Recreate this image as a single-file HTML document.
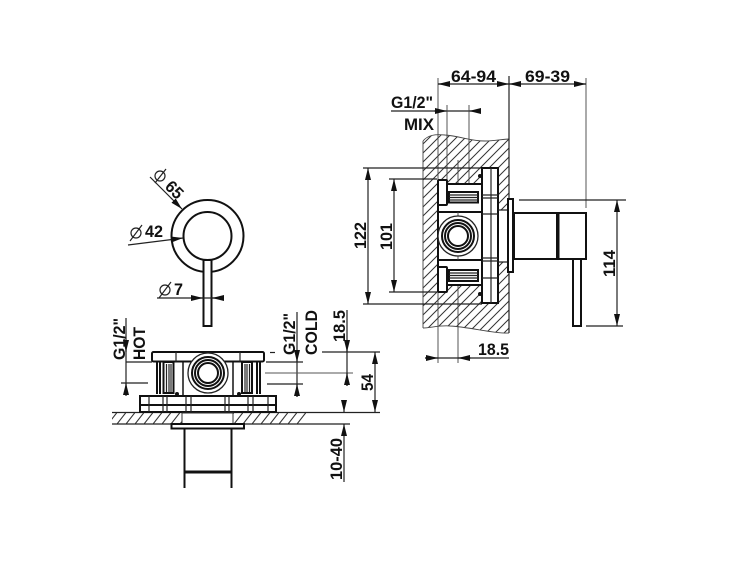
<!DOCTYPE html>
<html><head><meta charset="utf-8"><style>
html,body{margin:0;padding:0;background:#fff}
svg{display:block}
text{font-family:"Liberation Sans",sans-serif;font-size:17px;font-weight:bold;fill:#111}
.t{fill:none;stroke:#111;stroke-width:2}
.m{fill:none;stroke:#222;stroke-width:1.2}
.f{fill:none;stroke:#444;stroke-width:.9}
.w{fill:#fff;stroke:#111;stroke-width:2}
</style></head><body>
<svg width="750" height="563" viewBox="0 0 750 563" xmlns="http://www.w3.org/2000/svg">
<defs>
<pattern id="h" width="9" height="9" patternUnits="userSpaceOnUse"><path d="M-2 2L2 -2M0 9L9 0M7 11L11 7" stroke="#333" stroke-width="1"/></pattern>
<pattern id="h2" width="9" height="11.5" patternUnits="userSpaceOnUse" y="412.5"><path d="M0 11.5L9 0" stroke="#333" stroke-width="1.1"/></pattern>
<marker id="a" markerUnits="userSpaceOnUse" markerWidth="12" markerHeight="6" refX="12" refY="3" orient="auto"><path d="M0 0L12 3L0 6z" fill="#111"/></marker>
</defs>

<!-- wall hatch side view -->
<path d="M423 141C428 135 435 134 445 135C460 136 470 141 485 141C495 141 503 139 509 139V333C495 334 470 327 450 326C440 325 430 328 423 328Z" fill="url(#h)"/>
<path d="M423 141V328" class="f"/>
<path d="M423 141C428 135 435 134 445 135C460 136 470 141 485 141C495 141 503 139 509 139" class="f"/>
<path d="M423 328C430 328 440 325 450 326C470 327 495 334 509 333" class="f"/>
<rect x="438" y="184" width="44" height="101" fill="#fff"/>
<rect x="482" y="168" width="16" height="135" fill="#fff"/>
<rect x="498" y="210" width="10" height="52" fill="#fff"/>

<!-- side view dims top -->
<path d="M509 76V333" class="m" stroke-width="1.5"/>
<path d="M438 78V363M586 78V208" class="f"/>
<path d="M438 84H586" class="m"/>
<line x1="450" y1="84" x2="438" y2="84" class="m" marker-end="url(#a)"/>
<line x1="497" y1="84" x2="509" y2="84" class="m" marker-end="url(#a)"/>
<line x1="521" y1="84" x2="509" y2="84" class="m" marker-end="url(#a)"/>
<line x1="574" y1="84" x2="586" y2="84" class="m" marker-end="url(#a)"/>
<text x="451" y="82" textLength="45" lengthAdjust="spacingAndGlyphs">64-94</text>
<text x="525" y="82" textLength="45" lengthAdjust="spacingAndGlyphs">69-39</text>
<text x="391" y="108" textLength="42" lengthAdjust="spacingAndGlyphs">G1/2"</text>
<text x="404" y="130" textLength="30" lengthAdjust="spacingAndGlyphs">MIX</text>
<path d="M391 111H481" class="m"/>
<line x1="434" y1="111" x2="447" y2="111" class="m" marker-end="url(#a)"/>
<line x1="481" y1="111" x2="469" y2="111" class="m" marker-end="url(#a)"/>
<path d="M447 105V184M469 105V184" class="f"/>
<path d="M458 284V363M458 160V184" class="f"/>

<!-- 122 / 101 -->
<path d="M363 168H482M363 304H482M389 179H437M389 292H437" class="m"/>
<line x1="368" y1="235" x2="368" y2="168" class="m" marker-end="url(#a)"/>
<line x1="368" y1="235" x2="368" y2="304" class="m" marker-end="url(#a)"/>
<line x1="394" y1="235" x2="394" y2="179" class="m" marker-end="url(#a)"/>
<line x1="394" y1="235" x2="394" y2="292" class="m" marker-end="url(#a)"/>
<text transform="translate(366,249) rotate(-90)" textLength="27" lengthAdjust="spacingAndGlyphs">122</text>
<text transform="translate(392,250) rotate(-90)" textLength="27" lengthAdjust="spacingAndGlyphs">101</text>

<!-- mechanism side view -->
<path d="M438 183V291" class="t"/>
<rect x="438" y="180" width="9" height="25" class="w" rx="1"/>
<rect x="438" y="267" width="9" height="25" class="w" rx="1"/>
<path d="M447 184H482M438 212H482M438 260H482M447 285H482" class="t"/>
<rect x="449" y="192" width="29" height="10.500" fill="#fff" stroke="#111" stroke-width="2"/>
<path d="M449 195H478M449 197.500H478M449 200H478" class="m"/>
<rect x="449" y="270" width="29" height="11" fill="#fff" stroke="#111" stroke-width="2"/>
<path d="M449 273H478M449 275.500H478M449 278H478" class="m"/>
<path d="M458 212V260" class="f"/>
<circle cx="458" cy="236" r="20" fill="#fff" stroke="#222" stroke-width="1.3"/>
<circle cx="458" cy="236" r="16" fill="none" stroke="#111" stroke-width="2"/>
<circle cx="458" cy="236" r="13" fill="none" stroke="#111" stroke-width="2"/>
<circle cx="458" cy="236" r="10" fill="#fff" stroke="#111" stroke-width="2"/>
<rect x="482" y="168" width="16" height="135" class="w"/>
<path d="M491 168V303" class="m" stroke-width="1.6"/>
<path d="M482 195H498M482 198H498M482 214H498M482 258H498M482 261H498M482 278H498" class="m"/>
<circle cx="480" cy="176" r="2" fill="#111"/><circle cx="480" cy="294" r="2" fill="#111"/>
<path d="M498 210H508M498 262H508" class="m"/>
<rect x="508" y="199" width="5" height="73" fill="#fff" stroke="#111" stroke-width="2"/>

<!-- handle side view -->
<rect x="514" y="213" width="43" height="46" fill="#fff" stroke="#111" stroke-width="2"/>
<rect x="557" y="213" width="29" height="46" fill="#fff" stroke="#111" stroke-width="2"/>
<path d="M558.500 213V259" class="t"/>
<rect x="573" y="259" width="8" height="67" fill="#fff" stroke="#111" stroke-width="2"/>

<!-- 114 -->
<path d="M519 200H626M586 326H623" class="m"/>
<line x1="617" y1="260" x2="617" y2="200" class="m" marker-end="url(#a)"/>
<line x1="617" y1="260" x2="617" y2="326" class="m" marker-end="url(#a)"/>
<text transform="translate(615,277) rotate(-90)" textLength="27" lengthAdjust="spacingAndGlyphs">114</text>

<!-- 18.5 side -->
<path d="M425 358H509" class="m"/>
<line x1="425" y1="358" x2="438" y2="358" class="m" marker-end="url(#a)"/>
<line x1="471" y1="358" x2="458" y2="358" class="m" marker-end="url(#a)"/>
<text x="478" y="355" textLength="31" lengthAdjust="spacingAndGlyphs">18.5</text>

<!-- front view -->
<circle cx="207.500" cy="236" r="36" fill="#fff" stroke="#111" stroke-width="2"/>
<circle cx="207.500" cy="236" r="24" fill="#fff" stroke="#111" stroke-width="2"/>
<rect x="203.500" y="260" width="8" height="66" fill="#fff" stroke="#111" stroke-width="2"/>
<path d="M150 177L172 199" class="m"/>
<line x1="171" y1="198" x2="182" y2="209" class="m" marker-end="url(#a)"/>
<circle cx="160" cy="176" r="5" class="m"/><path d="M155 183L166 169" class="m"/>
<text transform="translate(164,187.500) rotate(45)" textLength="18" lengthAdjust="spacingAndGlyphs">65</text>
<path d="M128 245L172 239.500" class="m"/>
<line x1="171" y1="239.500" x2="183" y2="238" class="m" marker-end="url(#a)"/>
<circle cx="136" cy="233" r="5" class="m"/><path d="M130 241L142 225" class="m"/>
<text x="145" y="237" textLength="18" lengthAdjust="spacingAndGlyphs">42</text>
<path d="M157 298H224" class="m"/>
<line x1="191" y1="298" x2="203" y2="298" class="m" marker-end="url(#a)"/>
<line x1="224" y1="298" x2="212" y2="298" class="m" marker-end="url(#a)"/>
<circle cx="165" cy="290" r="5" class="m"/><path d="M159 298L171 282" class="m"/>
<text x="174" y="295" textLength="9" lengthAdjust="spacingAndGlyphs">7</text>

<!-- bottom view: wall -->
<rect x="112" y="413" width="71" height="11" fill="url(#h2)"/>
<rect x="233" y="413" width="73" height="11" fill="url(#h2)"/>
<path d="M112 412.500H380M112 424H350" class="m"/>

<!-- bottom view mechanism -->
<rect x="183" y="353" width="50" height="43" fill="#fff" stroke="#222" stroke-width="1.6"/>
<path d="M157 362V394M160 362V394M257 362V394M260 362V394" class="t"/>
<rect x="163.500" y="362" width="10" height="31" fill="#fff" stroke="#111" stroke-width="2"/>
<path d="M166.500 364V392M169 364V392M171 364V392" class="m"/>
<rect x="242" y="362" width="10" height="31" fill="#fff" stroke="#111" stroke-width="2"/>
<path d="M245 364V392M247 364V392M249.500 364V392" class="m"/>
<rect x="152" y="352" width="112" height="9.500" rx="1.500" fill="#fff" stroke="#111" stroke-width="2"/>
<path d="M176 352V362M240 352V362" class="m"/>
<circle cx="208" cy="373" r="20" fill="#fff" stroke="#222" stroke-width="1.3"/>
<circle cx="208" cy="373" r="16" fill="none" stroke="#111" stroke-width="2"/>
<circle cx="208" cy="373" r="13" fill="none" stroke="#111" stroke-width="2"/>
<circle cx="208" cy="373" r="10" fill="#fff" stroke="#111" stroke-width="2"/>
<circle cx="177" cy="394" r="2" fill="#111"/><circle cx="239" cy="394" r="2" fill="#111"/>
<rect x="140" y="396" width="136" height="16" fill="#fff" stroke="#111" stroke-width="2"/>
<path d="M140 405H276" class="t"/>
<path d="M149 396V412M163 396V412M167 396V412M186 396V412M191 396V412M225 396V412M229 396V412M248 396V412M253 396V412M268 396V412" class="m"/>
<rect x="182" y="413" width="51" height="11" fill="#fff" stroke="#333" stroke-width="1"/>
<rect x="171.500" y="424" width="72.500" height="4.500" fill="#fff" stroke="#111" stroke-width="2"/>
<path d="M184.500 428V488M231.500 428V488" class="t"/>
<path d="M184 472H232" stroke="#111" stroke-width="3"/>

<!-- bottom view dims -->
<path d="M126 318V395M126 362H152M121 383H148" class="m"/>
<line x1="126" y1="340" x2="126" y2="352" class="m" marker-end="url(#a)"/>
<line x1="126" y1="396" x2="126" y2="383" class="m" marker-end="url(#a)"/>
<text transform="translate(125,360) rotate(-90)" textLength="42" lengthAdjust="spacingAndGlyphs">G1/2"</text>
<text transform="translate(145,360) rotate(-90)" textLength="33" lengthAdjust="spacingAndGlyphs">HOT</text>

<path d="M297 312V397M266 362H303M267 384H303" class="m"/>
<path d="M265 373H353" stroke="#555" stroke-width="1.1"/>
<path d="M270 352.500H275" class="m"/>
<line x1="297" y1="350" x2="297" y2="362" class="m" marker-end="url(#a)"/>
<line x1="297" y1="397" x2="297" y2="384" class="m" marker-end="url(#a)"/>
<text transform="translate(295,355) rotate(-90)" textLength="42" lengthAdjust="spacingAndGlyphs">G1/2"</text>
<text transform="translate(317,355) rotate(-90)" textLength="45" lengthAdjust="spacingAndGlyphs">COLD</text>

<path d="M322 352H380M347 310V386" class="m"/>
<line x1="347" y1="340" x2="347" y2="352" class="m" marker-end="url(#a)"/>
<line x1="347" y1="386" x2="347" y2="373" class="m" marker-end="url(#a)"/>
<text transform="translate(345,342) rotate(-90)" textLength="32" lengthAdjust="spacingAndGlyphs">18.5</text>

<line x1="375" y1="382" x2="375" y2="352" class="m" marker-end="url(#a)"/>
<line x1="375" y1="382" x2="375" y2="412" class="m" marker-end="url(#a)"/>
<text transform="translate(373,391) rotate(-90)" textLength="17" lengthAdjust="spacingAndGlyphs">54</text>

<line x1="344" y1="400" x2="344" y2="412" class="m" marker-end="url(#a)"/>
<line x1="344" y1="482" x2="344" y2="424" class="m" marker-end="url(#a)"/>
<text transform="translate(342,480) rotate(-90)" textLength="42" lengthAdjust="spacingAndGlyphs">10-40</text>
</svg>
</body></html>
